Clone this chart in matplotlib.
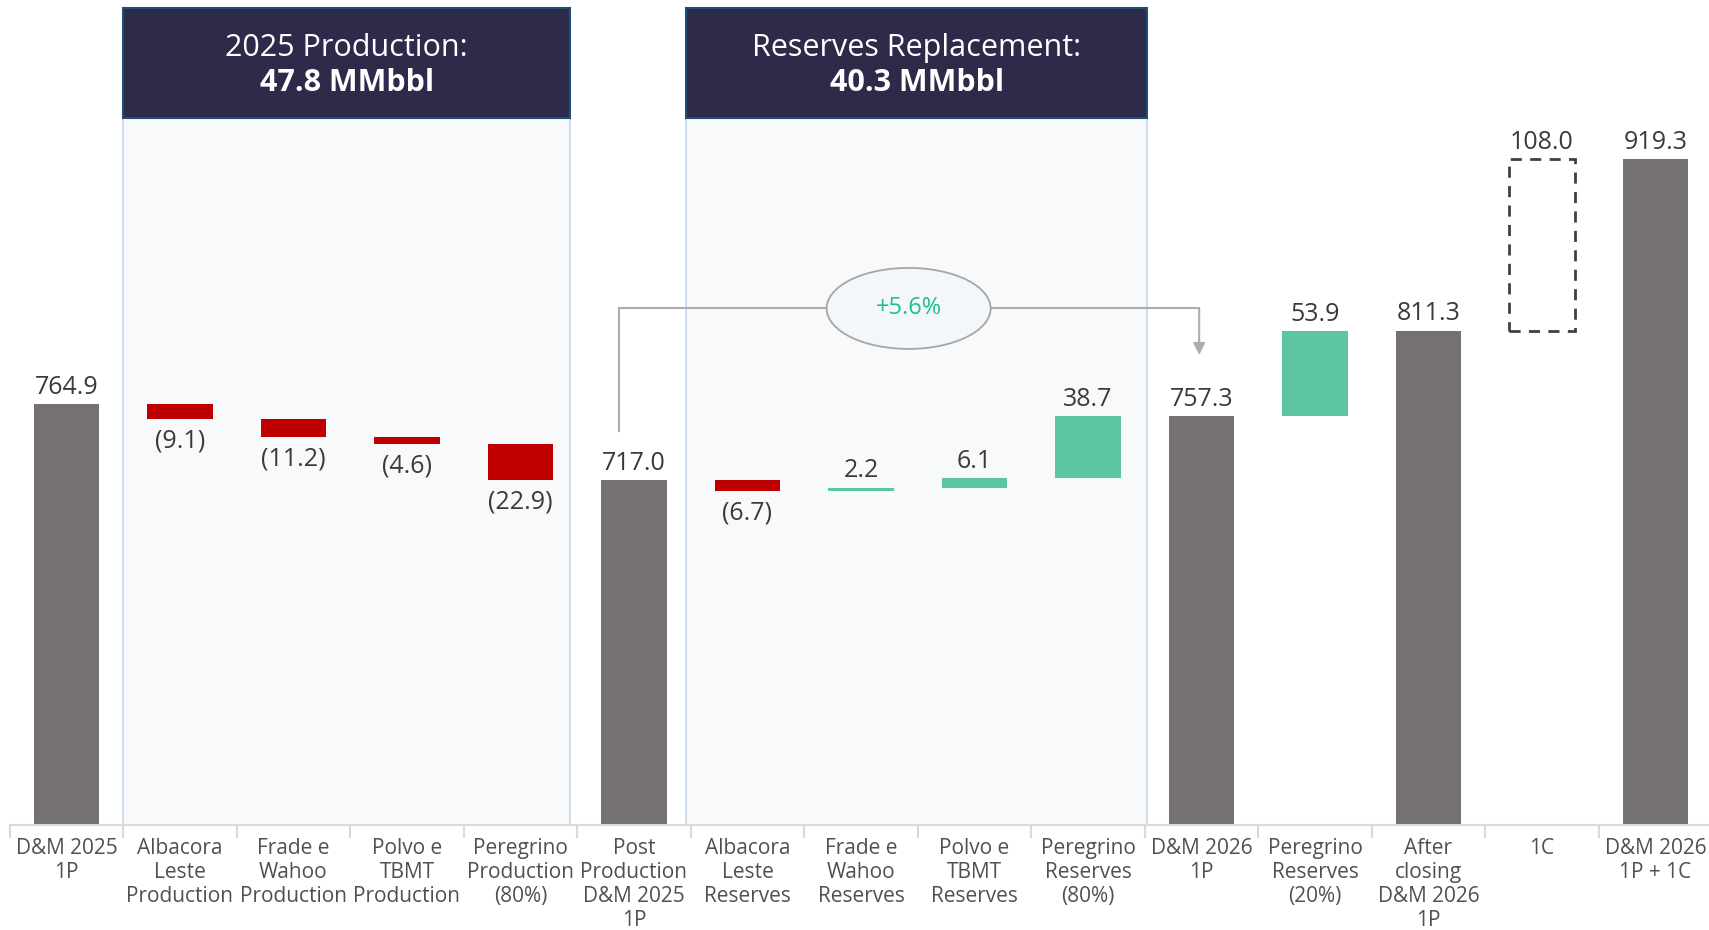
import matplotlib
matplotlib.use('Agg')
import matplotlib.pyplot as plt
from matplotlib.patches import Rectangle, Ellipse

plt.rcParams['font.family'] = ['Open Sans', 'DejaVu Sans']

# ---------------- data ----------------
categories = ["D&M 2025\n1P", "Albacora\nLeste\nProduction", "Frade e\nWahoo\nProduction",
              "Polvo e\nTBMT\nProduction", "Peregrino\nProduction\n(80%)",
              "Post\nProduction\nD&M 2025\n1P", "Albacora\nLeste\nReserves",
              "Frade e\nWahoo\nReserves", "Polvo e\nTBMT\nReserves", "Peregrino\nReserves\n(80%)",
              "D&M 2026\n1P", "Peregrino\nReserves\n(20%)", "After\nclosing\nD&M 2026\n1P",
              "1C", "D&M 2026\n1P + 1C"]
values = [764.9, -9.1, -11.2, -4.6, -22.9, 717.0, -6.7, 2.2, 6.1, 38.7, 757.3, 53.9, 811.3, 108.0, 919.3]
kinds = ['total', 'delta', 'delta', 'delta', 'delta', 'total', 'delta', 'delta', 'delta', 'delta',
         'total', 'delta', 'total', 'potential', 'total']
group_titles = ["2025 Production:", "Reserves Replacement:"]
group_values = ["47.8 MMbbl", "40.3 MMbbl"]
growth_label = "+5.6%"

# ---------------- style ----------------
C_TOTAL = '#767171'
C_NEG = '#C00000'
C_POS = '#5CC6A0'
C_TXT = '#3A3A3A'
C_TICK = '#505050'
C_HEAD = '#2D2A4A'
C_HEAD_EDGE = '#1F4E79'
C_SHADE = '#F7F9FB'
C_SHADE_EDGE = '#C5D8EE'
C_LINE = '#ADADAD'
BASE = 500.0
W = 0.58

fig = plt.figure(figsize=(17.09, 9.30), dpi=100)
ax = fig.add_axes([9.7 / 1709, (930 - 825) / 930, 15 * 113.5 / 1709, 825 / 930])
ax.set_xlim(-0.5, 14.5)
ax.set_ylim(BASE, BASE + 825 / 1.588)

# group shaded panels + headers
groups = [(0.5, 4.44), (5.46, 9.52)]
head_lo, head_hi = 945.4, 1014.7
for (x0, x1), t, v in zip(groups, group_titles, group_values):
    ax.add_patch(Rectangle((x0, BASE), x1 - x0, head_lo - BASE, facecolor=C_SHADE,
                           edgecolor=C_SHADE_EDGE, lw=1.2, zorder=0.5, clip_on=False))
    ax.add_patch(Rectangle((x0, head_lo), x1 - x0, head_hi - head_lo, facecolor=C_HEAD,
                           edgecolor=C_HEAD_EDGE, lw=1.5, zorder=3, clip_on=False))
    xc = (x0 + x1) / 2
    ax.text(xc, 989.0, t, ha='center', va='center', color='white', fontsize=22, zorder=4)
    ax.text(xc, 967.5, v, ha='center', va='center', color='white', fontsize=22,
            fontweight='bold', zorder=4)

# waterfall bars
running = 0.0
for i, (v, k) in enumerate(zip(values, kinds)):
    if k == 'total':
        ax.bar(i, v - BASE, bottom=BASE, width=W, color=C_TOTAL, zorder=2)
        running = v
        ax.annotate(f"{v:.1f}", (i, v), xytext=(0, 3), textcoords='offset points',
                    ha='center', va='bottom', fontsize=18, color=C_TXT)
    elif k == 'potential':
        ax.bar(i, v, bottom=running, width=W, facecolor='none', edgecolor='#404040',
               lw=2, linestyle=(0, (4, 3)), zorder=2)
        ax.annotate(f"{v:.1f}", (i, running + v), xytext=(0, 3), textcoords='offset points',
                    ha='center', va='bottom', fontsize=18, color=C_TXT)
        running += v
    else:
        color = C_NEG if v < 0 else C_POS
        ax.bar(i, v, bottom=running, width=W, color=color, zorder=2)
        if v < 0:
            ax.annotate(f"({abs(v):.1f})", (i, running + v), xytext=(0, -7),
                        textcoords='offset points', ha='center', va='top', fontsize=18,
                        color=C_TXT)
        else:
            ax.annotate(f"{v:.1f}", (i, running + v), xytext=(0, 3),
                        textcoords='offset points', ha='center', va='bottom', fontsize=18,
                        color=C_TXT)
        running += v

# growth connector
start_i = kinds.index('total', 1)          # Post production total
end_i = kinds.index('total', start_i + 1)  # D&M 2026 1P
y_line = 825.3
xs = start_i - 0.13
xe = end_i - 0.02
ax.plot([xs, xs, xe], [values[start_i] + 31.4, y_line, y_line], color=C_LINE, lw=1.5,
        zorder=1, solid_joinstyle='miter')
ax.annotate('', xy=(xe, values[end_i] + 38.7), xytext=(xe, y_line),
            arrowprops=dict(arrowstyle='-|>,head_length=0.7,head_width=0.35', color=C_LINE,
                            lw=1.5, shrinkA=0, shrinkB=0), zorder=1)
ex = 7.42
ax.add_patch(Ellipse((ex, y_line), 1.445, 51, facecolor='#F4F7FA', edgecolor='#A6A6A6',
                     lw=1.3, zorder=3))
ax.text(ex, y_line, growth_label, ha='center', va='center', fontsize=17, color='#1DBF8A',
        zorder=4)

# axes styling
for s in ['top', 'right', 'left']:
    ax.spines[s].set_visible(False)
ax.spines['bottom'].set_color('#D9D9D9')
ax.spines['bottom'].set_linewidth(1.5)
ax.set_yticks([])
ax.set_xticks(range(len(categories)))
ax.set_xticklabels(categories, fontsize=15, color=C_TICK, linespacing=1.2)
ax.tick_params(axis='x', which='major', length=0, pad=9)
ax.set_xticks([i - 0.5 for i in range(len(categories) + 1)], minor=True)
ax.tick_params(axis='x', which='minor', length=9, color='#D9D9D9', width=1.5)

fig.savefig('out.png', dpi=100)
